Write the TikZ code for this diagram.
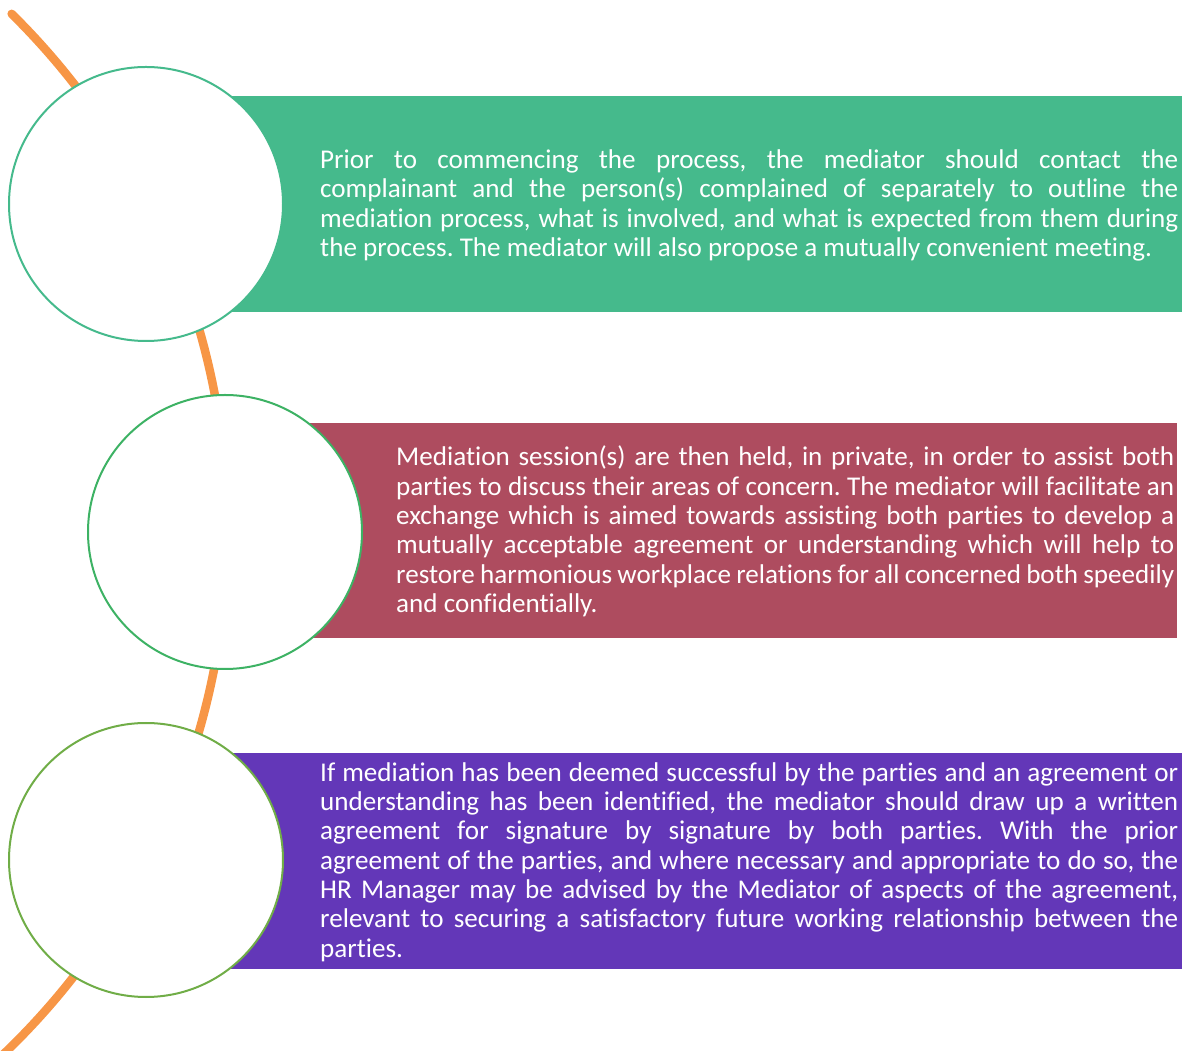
\documentclass[tikz,border=0pt]{standalone}
\usepackage{fontspec}
\setmainfont{Carlito}[Ligatures=NoCommon]
\definecolor{arcorange}{HTML}{F79646}
\definecolor{boxgreen}{HTML}{45BA8C}
\definecolor{boxred}{HTML}{AE4C5F}
\definecolor{boxpurple}{HTML}{6337B8}
\definecolor{ringone}{HTML}{45BA8C}
\definecolor{ringtwo}{HTML}{3DB264}
\definecolor{ringthree}{HTML}{70AD47}
\frenchspacing
\begin{document}
\begin{tikzpicture}[x=1pt,y=1pt,
  band/.style={rectangle, inner sep=0pt, draw=none},
  ring/.style={circle, fill=white, line width=2pt, inner sep=0pt, minimum size=274pt},
  bodytext/.style={anchor=west, inner sep=0pt, text=white, align=justify,
    font=\fontsize{27.1}{29.3}\selectfont}]
\useasboundingbox (0,0) rectangle (1189,1050);
% orange arc
\draw[arcorange, line width=8.5pt, line cap=round]
  (-497.4,520) ++(45.4:725) arc[start angle=45.4, end angle=-47, radius=725];
% bands
\node[band, fill=boxgreen, minimum width=1036pt, minimum height=216pt] (r1) at (664,846) {};
\node[band, fill=boxred, minimum width=952pt, minimum height=215pt] (r2) at (701,519.5) {};
\node[band, fill=boxpurple, minimum width=1036pt, minimum height=216pt] (r3) at (664,189) {};
% circles
\node[ring, draw=ringone] (c1) at (146,846) {};
\node[ring, draw=ringtwo] (c2) at (225,518) {};
\node[ring, draw=ringthree] (c3) at (146,190) {};
% texts
\node[bodytext, text width=858pt] (t1) at (320,844.5) {Prior to commencing the process, the mediator should contact the\linebreak
complainant and the person(s) complained of separately to outline the\linebreak
mediation process, what is involved, and what is expected from them during\linebreak
the process. The mediator will also propose a mutually convenient meeting.};
\node[bodytext, text width=778pt] (t2) at (396,518.5) {Mediation session(s) are then held, in private, in order to assist both\linebreak
parties to discuss their areas of concern. The mediator will facilitate an\linebreak
exchange which is aimed towards assisting both parties to develop a\linebreak
mutually acceptable agreement or understanding which will help to\linebreak
restore harmonious workplace relations for all concerned both speedily\linebreak
and confidentially.};
\node[bodytext, text width=858pt] (t3) at (320,188) {If mediation has been deemed successful by the parties and an agreement or\linebreak
understanding has been identified, the mediator should draw up a written\linebreak
agreement for signature by signature by both parties. With the prior\linebreak
agreement of the parties, and where necessary and appropriate to do so, the\linebreak
HR Manager may be advised by the Mediator of aspects of the agreement,\linebreak
relevant to securing a satisfactory future working relationship between the\linebreak
parties.};
\end{tikzpicture}
\end{document}
